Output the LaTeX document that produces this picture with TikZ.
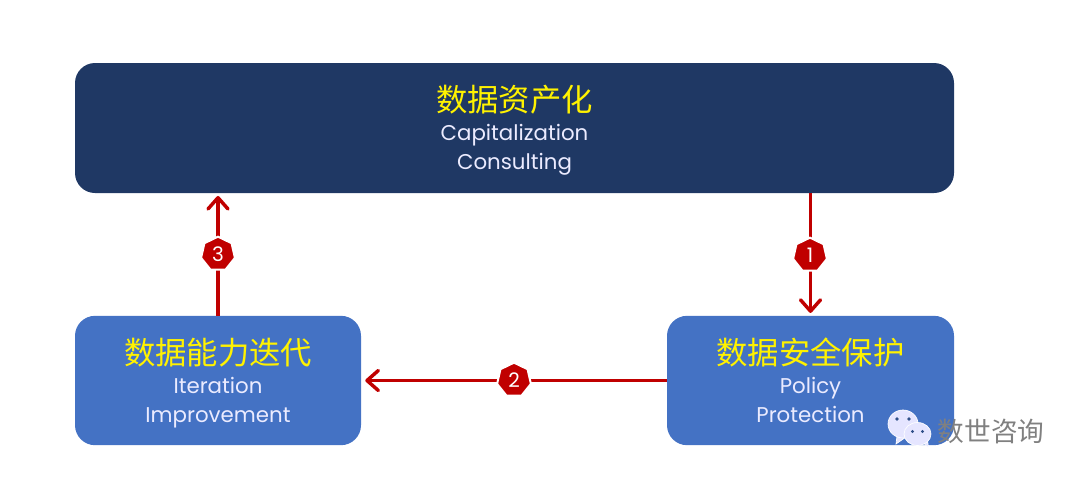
\documentclass[tikz,border=0pt]{standalone}
\usepackage{fontspec}
\setmainfont{Poppins}
\newfontfamily\cjk{Noto Sans CJK SC}
\usetikzlibrary{arrows.meta,shapes.geometric}
\definecolor{DarkNavy}{HTML}{1F3864}
\definecolor{MidBlue}{HTML}{4472C4}
\definecolor{ArrowRed}{HTML}{C00000}
\setlength\lineskiplimit{-30pt}
\newcommand\BoxText[3]{%
    {\cjk\fontsize{23.5}{21.75}\selectfont\color{yellow}\rule{0pt}{23pt}#1}\\
    #2\\
    \rule[-4pt]{0pt}{4pt}#3%
}
\tikzset{
    box/.style={rounded corners=15pt,inner sep=0pt,align=center,text=white!92!blue,
        font=\fontsize{16}{21.75}\selectfont},
    flow/.style={draw=ArrowRed,line width=2.6pt,-{Straight Barb[length=8.5pt,width=15pt,round]}},
    badge/.style={regular polygon,regular polygon sides=7,minimum size=26pt,inner sep=0pt,
        fill=ArrowRed,draw=white,line width=1.5pt,text=white,font=\fontsize{15}{15}\selectfont},
    bubble/.style={fill=#1,draw=white,line width=0.5pt},
}
\begin{document}
\begin{tikzpicture}[x=0.75pt,y=-0.75pt]
    \useasboundingbox (0,0) rectangle (1080,479);
    % boxes
    \node[box,fill=DarkNavy,minimum width=659.25pt,minimum height=97.5pt] (capital) at (514.5,128) {\BoxText{数据资产化}{Capitalization}{Consulting}};
    \node[box,fill=MidBlue,minimum width=214.5pt,minimum height=97pt] (improve) at (218,380.5) {\BoxText{数据能力迭代}{Iteration}{Improvement}};
    \node[box,fill=MidBlue,minimum width=215.25pt,minimum height=97pt] (policy) at (810.5,380.5) {\BoxText{数据安全保护}{Policy}{Protection}};
    % arrows
    \draw[flow,shorten >=2pt] (capital.south -| policy.north) -- (policy.north);
    \draw[flow,shorten >=3pt] (policy.west) -- (improve.east);
    \draw[flow,shorten >=2pt] (improve.north) -- (improve.north |- capital.south);
    % badges
    \node[badge] (one) at (810,255) {1};
    \node[badge] (two) at (514,380) {2};
    \node[badge] (three) at (218,254) {3};
    % watermark
    \begin{scope}[shift={(903,424)}]
        \draw[bubble=white!90!blue] (-6,12) -- (-7,20) -- (3,13) -- cycle;
        \draw[bubble=white!90!blue] (0,0) ellipse (15 and 14);
        \fill[MidBlue!70!black] (-6,-5) circle (1.9) (6,-5) circle (1.9);
    \end{scope}
    \begin{scope}[shift={(917.5,434)}]
        \draw[bubble=white!90!blue] (5,8) -- (11,14) -- (10,6) -- cycle;
        \draw[bubble=white!90!blue] (0,0) ellipse (13.5 and 11.5);
        \fill[MidBlue!70!black] (-5,-2.5) circle (1.7) (5,-2.5) circle (1.7);
    \end{scope}
    \node[text=black!50,font=\cjk\fontsize{20}{20}\selectfont,inner sep=0pt] (mark) at (991,431) {数世咨询};
\end{tikzpicture}
\end{document}
